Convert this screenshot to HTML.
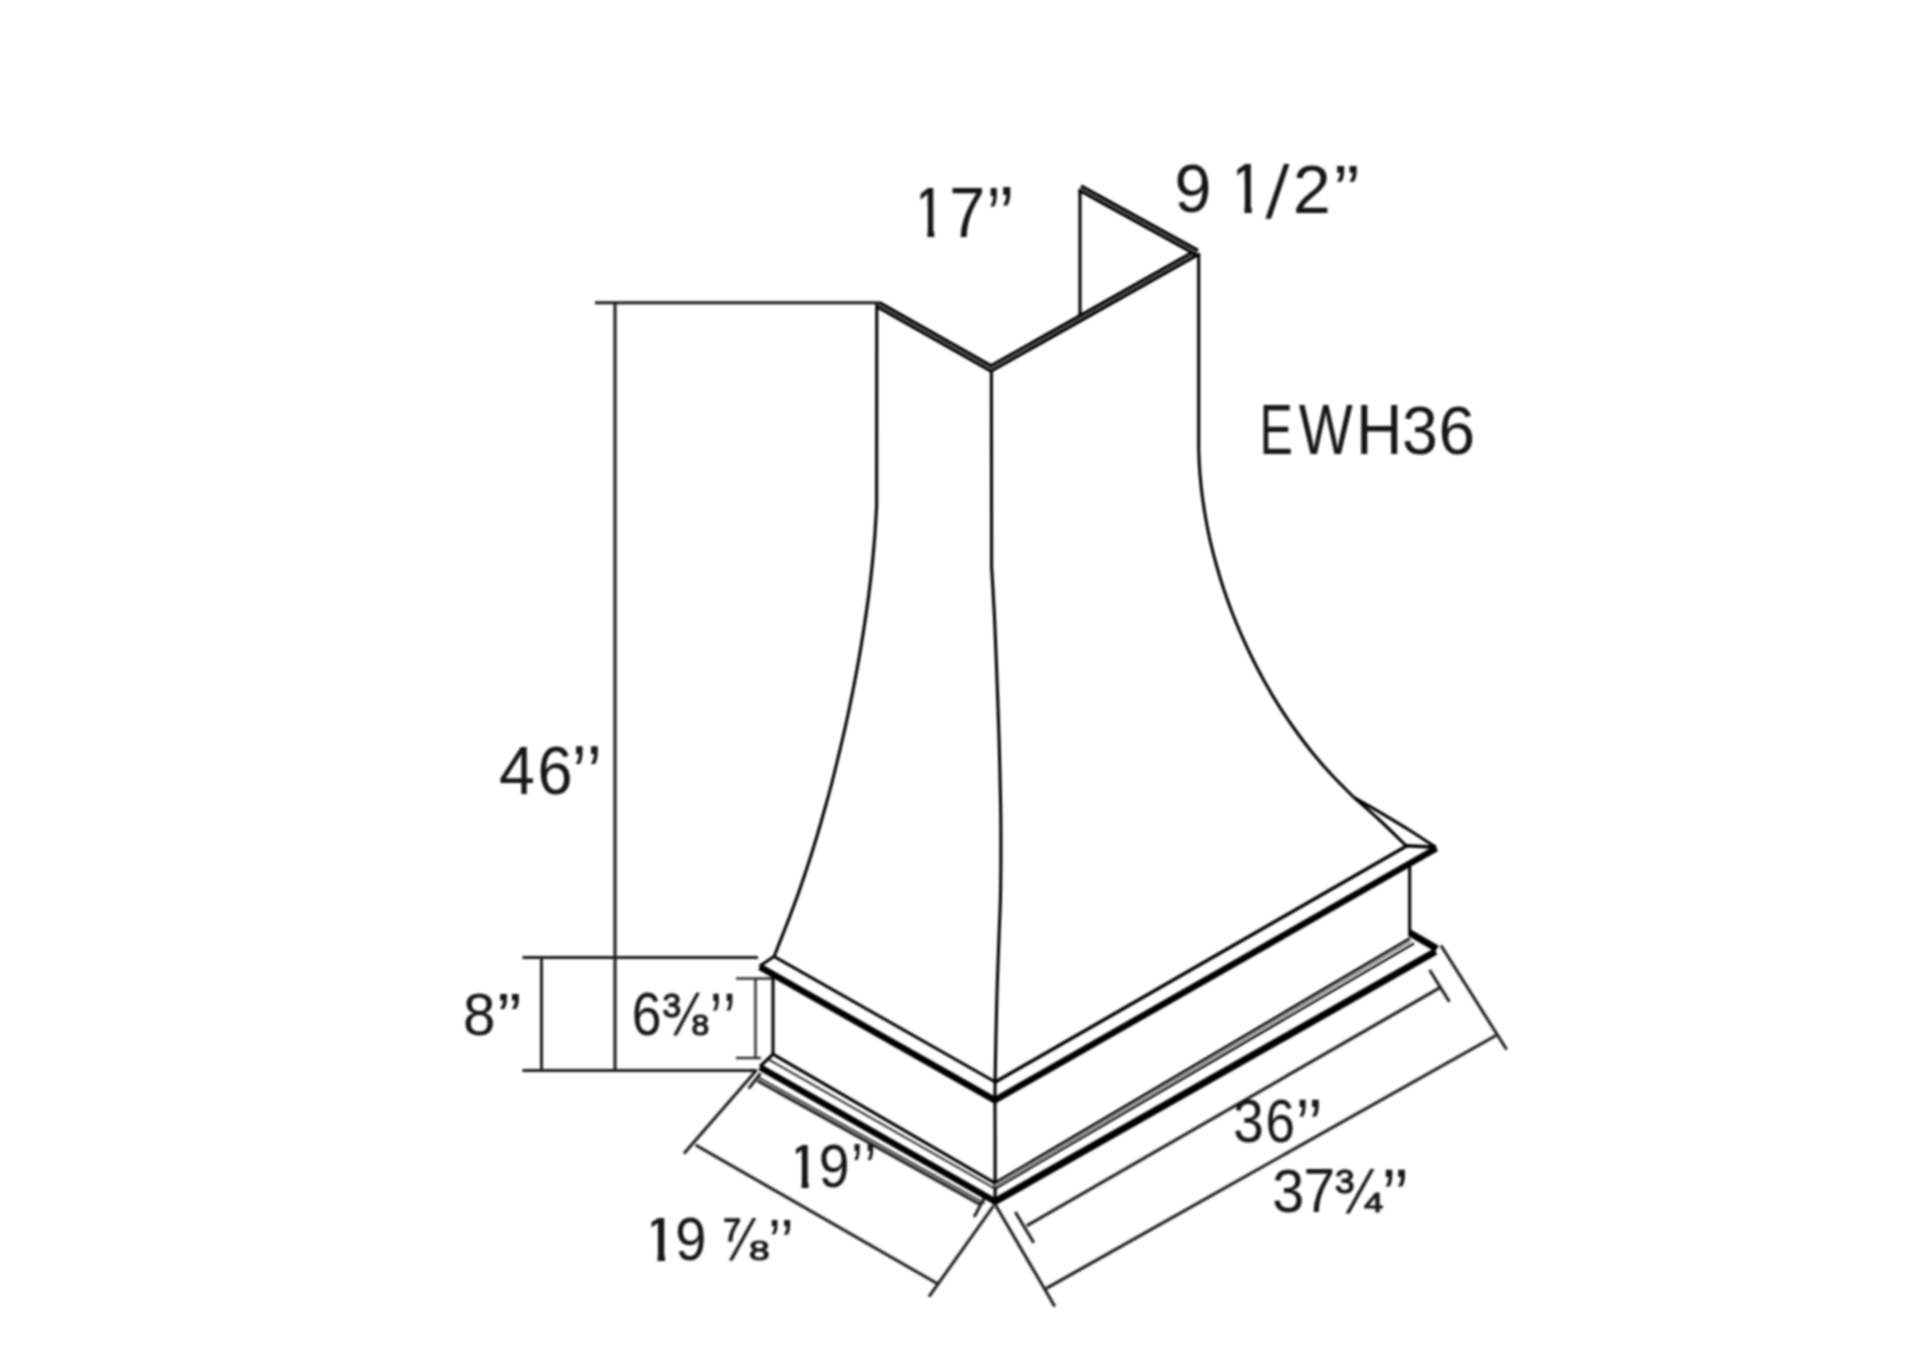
<!DOCTYPE html>
<html><head><meta charset="utf-8"><title>EWH36</title>
<style>
html,body{margin:0;padding:0;background:#fff;}
body{width:1920px;height:1371px;overflow:hidden;}
svg{display:block;}
text{font-family:"Liberation Sans",sans-serif;font-kerning:none;}
</style></head><body>
<svg width="1920" height="1371" viewBox="0 0 1920 1371">
<rect width="1920" height="1371" fill="#ffffff"/>
<filter id="soft" x="0" y="0" width="1920" height="1371" filterUnits="userSpaceOnUse"><feGaussianBlur stdDeviation="0.8"/></filter>
<g filter="url(#soft)">
<g>
<line x1="595" y1="302.7" x2="879" y2="302.7" stroke="#1c1c1c" stroke-width="3.0" stroke-linecap="butt"/>
<line x1="615" y1="302" x2="615" y2="1070.5" stroke="#1c1c1c" stroke-width="3.0" stroke-linecap="butt"/>
<line x1="522.5" y1="957.5" x2="758" y2="957.5" stroke="#1c1c1c" stroke-width="3.0" stroke-linecap="butt"/>
<line x1="522.5" y1="1070.5" x2="757" y2="1070.5" stroke="#1c1c1c" stroke-width="3.0" stroke-linecap="butt"/>
<line x1="541.5" y1="957.5" x2="541.5" y2="1070.5" stroke="#1c1c1c" stroke-width="3.0" stroke-linecap="butt"/>
<line x1="755.5" y1="978.5" x2="755.5" y2="1058" stroke="#2c2c2c" stroke-width="2.4" stroke-linecap="butt"/>
<line x1="736" y1="978.5" x2="772" y2="978.5" stroke="#2c2c2c" stroke-width="2.5" stroke-linecap="butt"/>
<line x1="736" y1="1058" x2="761" y2="1058" stroke="#2c2c2c" stroke-width="2.5" stroke-linecap="butt"/>
<line x1="757.5" y1="1080.8" x2="981" y2="1205" stroke="#1c1c1c" stroke-width="3.0" stroke-linecap="butt"/>
<line x1="760.5" y1="1073.5" x2="748.6" y2="1088.7" stroke="#1c1c1c" stroke-width="3.0" stroke-linecap="butt"/>
<line x1="984" y1="1198.5" x2="974.2" y2="1216.9" stroke="#1c1c1c" stroke-width="3.0" stroke-linecap="butt"/>
<line x1="756.7" y1="1070" x2="684" y2="1153.5" stroke="#1c1c1c" stroke-width="3.0" stroke-linecap="butt"/>
<line x1="695.6" y1="1145" x2="938" y2="1284" stroke="#1c1c1c" stroke-width="3.0" stroke-linecap="butt"/>
<line x1="993.8" y1="1205.5" x2="929" y2="1296.7" stroke="#1c1c1c" stroke-width="3.0" stroke-linecap="butt"/>
<line x1="995.8" y1="1205.5" x2="1054.8" y2="1306.4" stroke="#1c1c1c" stroke-width="3.0" stroke-linecap="butt"/>
<line x1="1015.3" y1="1212" x2="1033.8" y2="1242.7" stroke="#1c1c1c" stroke-width="3.0" stroke-linecap="butt"/>
<line x1="1026.6" y1="1225.8" x2="1440" y2="987.6" stroke="#1c1c1c" stroke-width="3.0" stroke-linecap="butt"/>
<line x1="1429.6" y1="970" x2="1449.4" y2="1001.7" stroke="#1c1c1c" stroke-width="3.0" stroke-linecap="butt"/>
<line x1="1045.9" y1="1288.6" x2="1496" y2="1035.5" stroke="#1c1c1c" stroke-width="3.0" stroke-linecap="butt"/>
<line x1="1441" y1="945.5" x2="1506.6" y2="1049.5" stroke="#1c1c1c" stroke-width="3.0" stroke-linecap="butt"/>
<path d="M876.8,304 L876.6,506 C876.3,511.0 875.5,526.0 874.8,536.0 C874.0,546.0 873.1,556.0 872.1,566.0 C871.1,576.0 869.9,586.0 868.6,596.0 C867.3,606.0 865.8,616.0 864.3,626.0 C862.8,636.0 861.1,646.0 859.4,656.0 C857.6,666.0 855.8,676.0 853.8,686.0 C851.8,696.0 849.9,706.0 847.7,716.0 C845.6,726.0 843.2,736.0 840.9,746.0 C838.5,756.0 836.1,766.0 833.6,776.0 C831.1,786.0 828.4,796.0 825.6,806.0 C822.8,816.0 820.0,826.0 817.0,836.0 C814.0,846.0 810.9,856.0 807.6,866.0 C804.3,876.0 801.0,886.0 797.4,896.0 C793.8,906.0 790.0,916.0 786.1,926.0 C782.2,936.0 776.3,951.0 774.3,956.0" fill="none" stroke="#050505" stroke-width="3.1" stroke-linejoin="round" stroke-linecap="butt"/>
<path d="M991.4,369 L991.6,566.5 C992.1,575.7 993.8,602.2 994.7,621.6 C995.6,641.0 996.4,662.6 997.1,683.0 C997.9,703.4 998.6,721.2 999.2,744.0 C999.8,766.8 1000.6,795.7 1000.8,820.0 C1001.0,844.3 1000.9,869.6 1000.6,890.0 C1000.3,910.4 999.4,923.4 998.8,942.4 C998.1,961.4 997.3,980.4 996.7,1003.7 C996.1,1027.0 995.4,1059.3 995.1,1082.0 C994.8,1104.7 995.1,1119.5 995.1,1140.0 C995.1,1160.5 995.1,1194.2 995.1,1205.0" fill="none" stroke="#050505" stroke-width="3.1" stroke-linejoin="round" stroke-linecap="butt"/>
<path d="M1198.7,253 L1198.7,450 C1198.9,453.9 1199.3,465.5 1199.9,473.2 C1200.5,480.9 1201.3,488.6 1202.3,496.3 C1203.3,504.0 1204.5,511.8 1205.9,519.5 C1207.3,527.2 1208.8,535.0 1210.6,542.7 C1212.4,550.4 1214.4,558.1 1216.6,565.8 C1218.8,573.5 1221.1,581.3 1223.7,589.0 C1226.3,596.7 1229.0,604.5 1232.0,612.2 C1235.0,619.9 1238.2,627.6 1241.6,635.3 C1245.0,643.0 1248.6,650.8 1252.4,658.5 C1256.2,666.2 1260.3,674.0 1264.6,681.7 C1268.9,689.4 1273.4,697.1 1278.3,704.8 C1283.2,712.5 1288.3,720.3 1293.8,728.0 C1299.3,735.7 1305.0,743.5 1311.2,751.2 C1317.4,758.9 1324.0,766.6 1331.1,774.3 C1338.2,782.0 1350.2,793.6 1354.0,797.5" fill="none" stroke="#050505" stroke-width="3.1" stroke-linejoin="round" stroke-linecap="butt"/>
<path d="M1354,797.5 C1358.3,801.3 1371.2,812.4 1380.0,820.5 C1388.8,828.6 1402.1,841.8 1406.5,846.0" fill="none" stroke="#050505" stroke-width="3.1" stroke-linejoin="round" stroke-linecap="butt"/>
<path d="M1354,797.5 C1358.3,800.0 1370.7,806.8 1380.0,812.3 C1389.3,817.8 1400.7,824.6 1410.0,830.5 C1419.3,836.4 1431.7,844.7 1436.0,847.5" fill="none" stroke="#050505" stroke-width="3.1" stroke-linejoin="round" stroke-linecap="butt"/>
<line x1="1080" y1="189" x2="1080" y2="318" stroke="#050505" stroke-width="3.1" stroke-linecap="butt"/>
<path d="M878,304.5 L991,368.5 L1197,252.5" fill="none" stroke="#050505" stroke-width="7.9" stroke-linejoin="miter" stroke-linecap="butt"/>
<path d="M878,304.5 L991,368.5 L1197,252.5" fill="none" stroke="#707070" stroke-width="1.2" stroke-linejoin="miter" stroke-linecap="butt"/>
<path d="M1080,188 L1197,252.5" fill="none" stroke="#050505" stroke-width="7.9" stroke-linejoin="miter" stroke-linecap="butt"/>
<path d="M1080,188 L1197,252.5" fill="none" stroke="#707070" stroke-width="1.2" stroke-linejoin="miter" stroke-linecap="butt"/>
<path d="M774.3,956.6 L995.3,1082" fill="none" stroke="#050505" stroke-width="3.1" stroke-linejoin="round" stroke-linecap="butt"/>
<path d="M995.3,1082 L1407,845.8 L1436,847.3" fill="none" stroke="#050505" stroke-width="3.5" stroke-linejoin="round" stroke-linecap="butt"/>
<path d="M774.3,956.2 L759.5,966.3" fill="none" stroke="#050505" stroke-width="3.1" stroke-linejoin="round" stroke-linecap="butt"/>
<path d="M759.8,966.8 L994.8,1100.2 L1436.5,848.2" fill="none" stroke="#000" stroke-width="6.5" stroke-linejoin="miter" stroke-linecap="butt"/>
<line x1="773" y1="976" x2="773" y2="1055" stroke="#050505" stroke-width="3.1" stroke-linecap="butt"/>
<line x1="1409.7" y1="862" x2="1409.7" y2="934" stroke="#050505" stroke-width="3.1" stroke-linecap="butt"/>
<path d="M773,1054.2 L995,1183.2 L1410,938.5" fill="none" stroke="#050505" stroke-width="3.1" stroke-linejoin="round" stroke-linecap="butt"/>
<path d="M768.5,1059.4 L995,1188.6" fill="none" stroke="#2a2a2a" stroke-width="2.0" stroke-linejoin="round" stroke-linecap="butt"/>
<path d="M995,1188.6 L1414,943.2" fill="none" stroke="#050505" stroke-width="2.4" stroke-linejoin="round" stroke-linecap="butt"/>
<path d="M995,1186 L1411,941" fill="none" stroke="#9a9a9a" stroke-width="2.2" stroke-linejoin="round" stroke-linecap="butt"/>
<path d="M760,1067.2 L995,1201.5" fill="none" stroke="#000" stroke-width="6.5" stroke-linejoin="miter" stroke-linecap="butt"/>
<path d="M994,1201 L995,1201.5 L1435.5,951.5" fill="none" stroke="#000" stroke-width="7.1" stroke-linejoin="miter" stroke-linecap="butt"/>
<path d="M773,1054.2 L760,1066.5" fill="none" stroke="#050505" stroke-width="3.1" stroke-linejoin="round" stroke-linecap="butt"/>
<path d="M1409.5,932.8 L1437,948.8" fill="none" stroke="#000" stroke-width="7.1" stroke-linejoin="round" stroke-linecap="butt"/>
<line x1="758.8" y1="1077.7" x2="985" y2="1203.5" stroke="#333" stroke-width="2.0" stroke-linecap="butt"/>
</g>
<defs><clipPath id="c1"><polygon points="920.6,186.4 934.2,186.4 934.2,237.9 927.5,237.9 927.5,205.9 920.6,205.9"/></clipPath>
<clipPath id="c2"><polygon points="1237.4,162.6 1251.7,162.6 1251.7,214.0 1244.5,214.0 1244.5,182.0 1237.4,182.0"/></clipPath>
<clipPath id="c3"><polygon points="795.9,1143.0 808.6,1143.0 808.6,1189.1 801.6,1189.1 801.6,1160.5 795.9,1160.5"/></clipPath>
<clipPath id="c4"><polygon points="651.5,1216.3 665.0,1216.3 665.0,1262.3 657.6,1262.3 657.6,1233.8 651.5,1233.8"/></clipPath></defs>
<g>
<g clip-path="url(#c1)"><text transform="matrix(0.6336 0 0 0.7050 911.87 236.90)" font-size="100" fill="#161616">1</text></g>
<text transform="matrix(0.6467 0 0 0.7035 949.18 236.80)" font-size="100" fill="#161616">7</text>
<text transform="matrix(0.6419 0 0 0.8291 986.62 245.44)" font-size="100" fill="#161616">’</text><text transform="matrix(0.7336 0 0 0.8291 998.55 245.44)" font-size="100" fill="#161616">’</text>
<text transform="matrix(0.6646 0 0 0.6878 1174.38 212.13)" font-size="100" fill="#161616">9</text>
<g clip-path="url(#c2)"><text transform="matrix(0.7015 0 0 0.7035 1227.06 213.00)" font-size="100" fill="#161616">1</text></g>
<text transform="matrix(0.7076 0 -0.0591 0.7449 1265.56 218.07)" font-size="100" fill="#161616">/</text>
<text transform="matrix(0.6849 0 0 0.6932 1292.86 212.50)" font-size="100" fill="#161616">2</text>
<text transform="matrix(0.7438 0 0 0.7125 1332.29 214.62)" font-size="100" fill="#161616">’</text><text transform="matrix(0.7438 0 0 0.7125 1344.79 214.62)" font-size="100" fill="#161616">’</text>
<text transform="matrix(0.5000 0 0 0.6977 1259.60 453.60)" font-size="100" fill="#161616">E</text>
<text transform="matrix(0.5716 0 0 0.6977 1298.65 453.60)" font-size="100" fill="#161616">W</text>
<text transform="matrix(0.6427 0 0 0.6977 1355.93 453.60)" font-size="100" fill="#161616">H</text>
<text transform="matrix(0.6433 0 0 0.6921 1402.05 453.52)" font-size="100" fill="#161616">3</text>
<text transform="matrix(0.6588 0 0 0.6921 1438.45 453.52)" font-size="100" fill="#161616">6</text>
<text transform="matrix(0.6450 0 0 0.6948 499.12 794.40)" font-size="100" fill="#161616">4</text>
<text transform="matrix(0.6307 0 0 0.6822 537.40 794.23)" font-size="100" fill="#161616">6</text>
<text transform="matrix(0.6725 0 0 0.7977 571.73 801.48)" font-size="100" fill="#161616">’</text><text transform="matrix(0.7030 0 0 0.7977 586.54 801.48)" font-size="100" fill="#161616">’</text>
<text transform="matrix(0.5839 0 0 0.5989 463.06 1035.12)" font-size="100" fill="#161616">8</text>
<text transform="matrix(0.7132 0 0 0.6722 495.58 1040.25)" font-size="100" fill="#161616">’</text><text transform="matrix(0.7234 0 0 0.6722 507.21 1040.25)" font-size="100" fill="#161616">’</text>
<text transform="matrix(0.5353 0 0 0.6073 631.68 1035.21)" font-size="100" fill="#161616">6</text>
<text transform="matrix(0.3354 0 0 0.3305 662.47 1016.53)" font-size="100" fill="#161616" stroke="#161616" stroke-width="3.90" stroke-linejoin="round">3</text>
<text transform="matrix(0.4954 0 -0.1789 0.5828 673.27 1035.03)" font-size="100" fill="#161616">/</text>
<text transform="matrix(0.3175 0 0 0.2881 691.47 1034.87)" font-size="100" fill="#161616" stroke="#161616" stroke-width="4.29" stroke-linejoin="round">8</text>
<text transform="matrix(0.5808 0 0 0.7439 709.50 1044.58)" font-size="100" fill="#161616">’</text><text transform="matrix(0.6012 0 0 0.7439 722.87 1044.58)" font-size="100" fill="#161616">’</text>
<g clip-path="url(#c3)"><text transform="matrix(0.6676 0 0 0.6265 785.11 1188.10)" font-size="100" fill="#161616">1</text></g>
<text transform="matrix(0.5542 0 0 0.6073 818.70 1187.41)" font-size="100" fill="#161616">9</text>
<text transform="matrix(0.5400 0 0 0.7260 851.05 1194.35)" font-size="100" fill="#161616">’</text><text transform="matrix(0.5706 0 0 0.7260 863.96 1194.35)" font-size="100" fill="#161616">’</text>
<g clip-path="url(#c4)"><text transform="matrix(0.7128 0 0 0.6250 639.97 1261.30)" font-size="100" fill="#161616">1</text></g>
<text transform="matrix(0.5607 0 0 0.6031 675.27 1260.41)" font-size="100" fill="#161616">9</text>
<text transform="matrix(0.3190 0 0 0.3140 723.21 1241.05)" font-size="100" fill="#161616" stroke="#161616" stroke-width="4.11" stroke-linejoin="round">7</text>
<text transform="matrix(0.4919 0 -0.1884 0.5787 728.98 1260.23)" font-size="100" fill="#161616">/</text>
<text transform="matrix(0.3729 0 0 0.2782 749.03 1260.08)" font-size="100" fill="#161616" stroke="#161616" stroke-width="3.99" stroke-linejoin="round">8</text>
<text transform="matrix(0.5910 0 0 0.6543 768.04 1264.61)" font-size="100" fill="#161616">’</text><text transform="matrix(0.6317 0 0 0.6543 779.88 1264.61)" font-size="100" fill="#161616">’</text>
<text transform="matrix(0.5484 0 0 0.6073 1233.21 1141.61)" font-size="100" fill="#161616">3</text>
<text transform="matrix(0.5288 0 0 0.6073 1265.41 1141.61)" font-size="100" fill="#161616">6</text>
<text transform="matrix(0.6317 0 0 0.7574 1295.48 1152.11)" font-size="100" fill="#161616">’</text><text transform="matrix(0.7030 0 0 0.7574 1307.54 1152.11)" font-size="100" fill="#161616">’</text>
<text transform="matrix(0.5758 0 0 0.6172 1272.21 1212.20)" font-size="100" fill="#161616">3</text>
<text transform="matrix(0.5675 0 0 0.6236 1303.49 1212.40)" font-size="100" fill="#161616">7</text>
<text transform="matrix(0.3522 0 0 0.3291 1335.01 1193.13)" font-size="100" fill="#161616" stroke="#161616" stroke-width="3.82" stroke-linejoin="round">3</text>
<text transform="matrix(0.5151 0 -0.1987 0.6060 1345.69 1213.41)" font-size="100" fill="#161616">/</text>
<text transform="matrix(0.3473 0 0 0.2762 1364.05 1211.75)" font-size="100" fill="#161616" stroke="#161616" stroke-width="4.17" stroke-linejoin="round">4</text>
<text transform="matrix(0.6725 0 0 0.7394 1381.53 1220.67)" font-size="100" fill="#161616">’</text><text transform="matrix(0.7132 0 0 0.7394 1393.38 1220.67)" font-size="100" fill="#161616">’</text>
</g>
</g>
</svg>
</body></html>
